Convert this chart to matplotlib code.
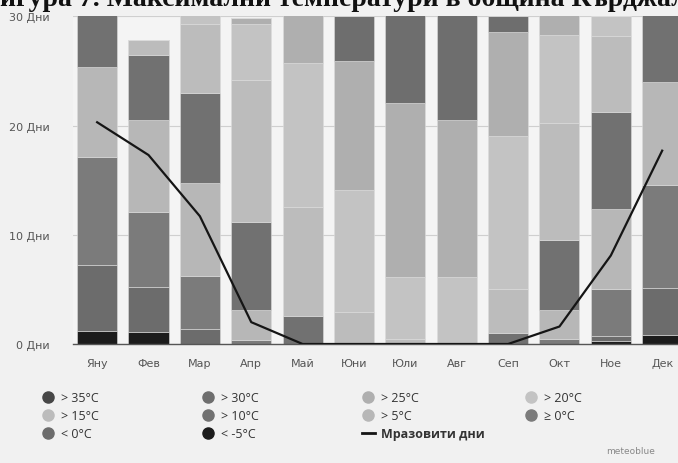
import matplotlib.pyplot as plt
from matplotlib.lines import Line2D
import numpy as np

# months and day counts per max-temperature class (bottom -> top)
months = ['Яну', 'Фев', 'Мар', 'Апр', 'Май', 'Юни', 'Юли', 'Авг', 'Сеп', 'Окт', 'Ное', 'Дек']
lt_m5 = [1.2, 1.1, 0.0, 0.0, 0.0, 0.0, 0.0, 0.0, 0.0, 0.0, 0.3, 0.8]
lt_0  = [6.05, 4.1, 1.4, 0.0, 0.0, 0.0, 0.0, 0.0, 0.0, 0.0, 0.4, 4.3]
ge_0  = [9.85, 6.9, 4.8, 0.4, 0.0, 0.0, 0.0, 0.0, 0.0, 0.5, 4.3, 9.5]
gt_5  = [8.3, 8.4, 8.5, 2.7, 0.0, 0.0, 0.0, 0.0, 0.0, 2.6, 7.4, 9.4]
gt_10 = [5.6, 6.0, 8.3, 8.1, 2.6, 0.0, 0.0, 0.0, 1.0, 6.4, 8.8, 7.0]
gt_15 = [0.0, 1.3, 6.3, 13.0, 9.9, 2.9, 0.5, 0.0, 4.0, 10.7, 7.0, 0.0]
gt_20 = [0.0, 0.0, 1.7, 5.1, 13.2, 11.2, 5.6, 6.1, 14.0, 8.1, 1.8, 0.0]
gt_25 = [0.0, 0.0, 0.0, 0.5, 5.3, 11.8, 16.0, 14.4, 9.6, 2.7, 0.0, 0.0]
gt_30 = [0.0, 0.0, 0.0, 0.0, 0.0, 4.1, 8.9, 10.5, 1.4, 0.0, 0.0, 0.0]
gt_35 = [0.0] * 12
frost_days = [20.3, 17.3, 11.7, 2.0, 0.0, 0.0, 0.0, 0.0, 0.0, 1.6, 8.1, 17.7]

series = [lt_m5, lt_0, ge_0, gt_5, gt_10, gt_15, gt_20, gt_25, gt_30, gt_35]
labels = ['< -5°C', '< 0°C', '≥ 0°C', '> 5°C', '> 10°C', '> 15°C', '> 20°C', '> 25°C', '> 30°C', '> 35°C']
colors = ['#1c1c1c', '#6c6c6c', '#7b7b7b', '#b7b7b7', '#717171', '#bcbcbc', '#c3c3c3', '#afafaf', '#6e6e6e', '#474747']

bg = '#f1f1f1'
fig = plt.figure(figsize=(6.78, 4.64), dpi=100, facecolor=bg)
ax = fig.add_axes([73/678, 119/464, 620/678, 327.7/464])
ax.set_facecolor('#f4f4f4')

x = np.arange(len(months))
bottom = np.zeros(len(months))
for vals, col in zip(series, colors):
    ax.bar(x, vals, 0.78, bottom=bottom, color=col, edgecolor='#dcdcdc', linewidth=0.4, zorder=2)
    bottom += np.array(vals)

ax.plot(x, frost_days, color='#151515', lw=1.6, zorder=3)

ax.set_xlim(-0.47, 11.6)
ax.set_ylim(0, 30)
ax.set_yticks([0, 10, 20, 30])
ax.set_yticklabels(['0 Дни', '10 Дни', '20 Дни', '30 Дни'])
ax.set_xticks(x)
ax.set_xticklabels(months)
ax.tick_params(axis='both', length=0, labelsize=8, colors='#555555')
ax.tick_params(axis='y', pad=17)
ax.tick_params(axis='x', pad=10)
ax.grid(axis='y', color='#cfcfcf', lw=0.8, zorder=1)
for s in ['top', 'right', 'left']:
    ax.spines[s].set_visible(False)
ax.spines['bottom'].set_color('#555555')
ax.spines['bottom'].set_linewidth(1.0)

# cut-off caption of the page above the chart (only its lower edge shows)
fig.text(0.5, 1 - 6/464, 'Фигура 7. Максимални температури в община Кърджали',
         ha='center', va='baseline', fontsize=20, fontweight='bold',
         family='Liberation Serif', color='#111111')

# legend: four columns laid out like the original
def dot(c):
    return Line2D([], [], marker='o', ls='', markersize=8, markerfacecolor=c, markeredgecolor=c)

cols = [
    ([dot(colors[9]), dot(colors[5]), dot(colors[1])], [labels[9], labels[5], labels[1]], 42),
    ([dot(colors[8]), dot(colors[4]), dot(colors[0])], [labels[8], labels[4], labels[0]], 202),
    ([dot(colors[7]), dot(colors[3]), Line2D([], [], color='#151515', lw=2)],
     [labels[7], labels[3], 'Мразовити дни'], 362),
    ([dot(colors[6]), dot(colors[2])], [labels[6], labels[2]], 525),
]
for handles, texts, px in cols:
    leg = fig.legend(handles, texts, loc='upper left', bbox_to_anchor=(px/678, 1 - 392/464),
                     frameon=False, handlelength=1.0, handletextpad=0.5,
                     labelspacing=0.4, borderaxespad=0, borderpad=0,
                     prop={'family': 'Open Sans', 'size': 9})
    for t in leg.get_texts():
        t.set_color('#333333')
        if t.get_text() == 'Мразовити дни':
            t.set_fontweight('bold')

fig.text(655/678, 1 - 452/464, 'meteoblue', ha='right', va='center', fontsize=6.5, color='#888888')

fig.savefig('out.png', dpi=100, facecolor=bg)
